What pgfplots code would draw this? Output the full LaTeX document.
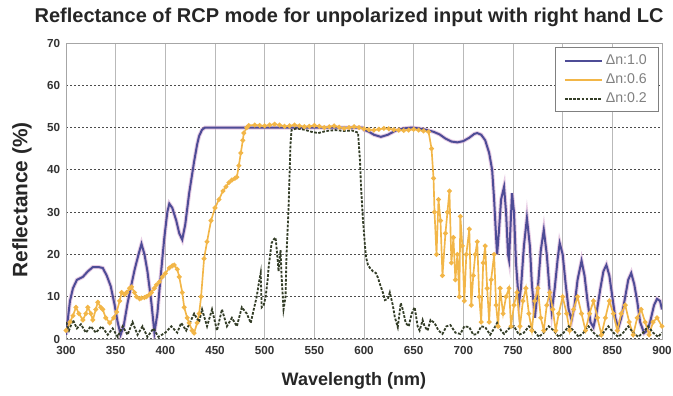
\documentclass[border=0pt]{standalone}
\usepackage{fontspec}
\setmainfont{Liberation Sans}
\usepackage{pgfplots}
\usepackage{pgfplotstable}
\pgfplotsset{compat=1.18}
\definecolor{cblue}{RGB}{78,76,150}
\definecolor{chalo}{RGB}{215,170,210}
\definecolor{corange}{RGB}{242,182,72}
\definecolor{cgreen}{RGB}{52,62,40}
\pgfplotstableread{
x y
300 1
302 5
304 9
307 12
311 14
317 14.7
322 16
327 17
333 17
337 16.8
341 15
345 12.5
349 8
352 4
355 1
358 3
362 8.5
366 13
369 16.3
373 20
376 22.5
379 20
382 16
386 8.5
389 1.5
392 6
395 14
399 24
402 30
404 32
407 31
411 28
414 25
417 23.5
420 27
424 34.5
427 39
429 42
432 46
434 48
437 49.5
440 50
460 50
480 50
500 50
520 50
540 50
560 50
580 50
598 50
600 49.5
605 49
610 48.3
617 47.8
624 48.3
632 49.3
640 49.8
648 50
655 49.8
662 49.5
670 49
676 48.4
682 47.4
688 46.7
694 46.5
700 46.8
706 47.6
711 48.5
714 48.7
718 48.3
722 47
726 44
729 40
731 33
733 24
734 20
736 26
738 33
741 36
743 30
745 20
746 18.7
747 24
749 34.5
751 30
753 18
756 8.5
758 12
761 22
764 28.6
767 22
769 13
772 5
775 12
778 21
781 25.8
784 20
787 11
789 6.5
792 12
795 19
797 22.7
800 20
803 13
806 7
809 4.5
812 8
815 14
819 18.5
822 15
825 9
828 4
831 2.8
834 6
838 12
841 16
844 17.5
847 15
850 10
853 5
856 2.6
859 5
863 10
866 14
869 15.6
872 13
875 9
878 4
882 1.4
885 2
888 4
892 8
895 9.5
898 9
900 7
}\tblue
\pgfplotstableread{
x y
300 2
304 4
307 5.5
310 7.5
313 6
317 4.5
320 6
322 7.5
325 6
327 4.5
330 7
332 8.7
335 7.5
337 7
340 5
344 3.8
348 5
351 6.4
354 9
356 11
359 10.5
361 11
364 12
366 12.3
369 11
371 10
374 9.5
376 9.7
379 9.8
381 10
384 10.5
386 11
389 12
391 12.8
394 13.5
397 14.7
400 15.5
404 16.8
407 17.3
409 17.5
412 16.5
414 14.7
417 11
419 7.5
422 5
424 3.8
427 2
429 1.4
432 3.8
434 6
436 10
439 19
442 23
446 28
450 31
454 33
458 35
461 36
464 37
467 37.6
470 38
472 38.3
474 41
476 44
478 47
479 48.7
482 50
484 50.5
490 50.6
495 50.5
500 50.4
505 50.6
510 50.8
515 50.6
520 50.3
525 50.4
530 50.6
535 50.4
540 50.2
545 50.3
550 50.5
555 50.3
560 50.0
565 50.2
570 50.4
575 50.1
580 49.8
585 50.0
590 50.2
595 50.0
600 49.7
605 49.5
610 49.4
615 49.6
620 49.8
625 49.7
630 49.5
635 49.4
640 49.3
645 49.4
650 49.6
655 49.4
660 49.2
665 49
668 45
670 38
671 30
673 20
675 33
677 28
679 15
682 25
684 30
686 35
688 18
690 24
692 14
694 20
696 10
697 29
699 22
701 9
703 20
706 26
708 8
710 15
712 20
714 23
716 10
718 4
720 18
722 22
724 12
726 4
728 14
731 20
733 8
735 3
737 12
740 6
743 10
746 12
748 3
751 8
754 11
757 3
760 9
763 12
766 6
769 2
772 9
775 12
778 5
781 2
784 8
787 11
790 7
793 2
796 6
800 10
804 6
807 2
811 7
815 10
819 6
823 2
827 6
831 9
835 5
839 1
843 5
847 9
851 6
855 2
859 6
863 8
867 4
871 1
875 5
879 7
883 4
887 1
891 4
895 5
900 3
}\torange
\pgfplotstableread{
x y
300 4
303 2
307 4.5
311 2.5
315 3.5
320 1.5
325 3
330 1.5
336 3
342 1
347 2.5
352 0.5
357 3
362 1
367 4
372 1
377 3
382 0.5
388 2.5
393 0.5
400 1.5
406 3
412 1.5
416 3.8
421 2
425 4
429 6
434 4
437 7
442 3
447 7
452 2
457 7
462 3
467 5
472 3
477 7.5
482 6
486 3.8
489 7
492 10
494 13
496 15.6
497 7.5
499 8
501 10
503 14
504 17
507 22.7
509 23.5
511 24
513 19
514 16
516 21
517 15
519 7
521 10
522 20
524 30.5
526 46
527 49.4
532 49.8
540 49.5
547 49
554 48.7
562 49.2
571 49.4
580 49.2
588 49.3
594 48.8
596 42
597 36
599 28
601 22
602 19.4
604 17.5
606 16.8
609 16
612 15.6
614 14.5
616 13
619 11
621 9.2
624 9.5
626 11
629 8
631 5.2
634 2.8
637 8.5
639 7
642 3.8
645 3
648 6
651 7.5
654 3
656 2
659 4.5
661 3
664 2
667 4.5
671 3.8
675 2
679 1.2
683 3
687 3.3
692 1.5
697 1.2
701 3
706 2.8
710 1
714 1.2
718 3
722 2.8
727 1
731 2.5
734 3.8
738 2
741 1.2
746 2.5
751 3
756 1
761 1.5
766 3
771 2
776 0.5
781 1.5
786 3
791 2
796 0.5
801 1.5
806 3
811 2
816 0.5
821 1.5
826 3
831 1.5
836 0.5
841 1.5
846 3
851 1.5
856 0.5
861 1.5
866 3
871 1.5
876 0.5
881 1.5
886 3
891 1.5
896 0.5
900 1.5
}\tgreen
\begin{document}
\begin{tikzpicture}
\begin{axis}[
  at={(0,0)}, anchor=south west,
  scale only axis,
  width=357.6pt, height=177.6pt,
  xmin=300, xmax=900, ymin=0, ymax=70,
  xtick={300,350,...,900}, ytick={0,10,...,70},
  major tick length=0pt,
  axis line style={gray!70},
  grid=major,
  x grid style={gray!55, line width=0.6pt},
  y grid style={black!70, dash pattern=on 1.2pt off 1.2pt, line width=0.6pt},
  /pgf/number format/assume math mode=true,
  ticklabel style={font=\bfseries\fontsize{7}{8}\selectfont, text=black!80},
  xticklabel style={yshift=-1pt},
  title={Reflectance of RCP mode for unpolarized input with right hand LC},
  every axis title shift=0pt,
  title style={font=\bfseries\fontsize{12}{14}\selectfont, text=black!85, anchor=center, at={(axis description cs:0.475,1.085)}},
  xlabel={Wavelength (nm)},
  xlabel style={font=\bfseries\fontsize{10.8}{12}\selectfont, text=black!85, anchor=center, at={(axis description cs:0.483,-0.141)}},
  ylabel={Reflectance (\%)},
  ylabel style={font=\bfseries\fontsize{12.5}{14}\selectfont, text=black!85, anchor=center, at={(axis description cs:-0.074,0.47)}},
  legend style={at={(axis description cs:0.995,0.985)}, anchor=north east, draw=gray, line width=0.6pt, font=\fontsize{8.5}{9}\selectfont, text=black!50, inner xsep=5pt, inner ysep=2pt, row sep=0pt, cells={anchor=west}},
  legend image code/.code={\draw[#1] (0pt,0pt) -- (22pt,0pt);},
]
\addplot[chalo, line width=2.4pt, opacity=0.6, forget plot] table[x=x,y=y] {\tblue};
\addplot[cblue, line width=1.2pt] table[x=x,y=y] {\tblue};
\addlegendentry{Δn:1.0}
\addplot[corange, line width=1pt, mark=*, mark size=0.9pt, mark options={solid, fill=corange, draw=corange}] table[x=x,y=y] {\torange};
\addlegendentry{Δn:0.6}
\addplot[cgreen, line width=1.1pt, dash pattern=on 1.6pt off 0.9pt] table[x=x,y=y] {\tgreen};
\addlegendentry{Δn:0.2}
\end{axis}
\pgfresetboundingbox
\path (-39.6pt,-34.2pt) rectangle (364.2pt,203.4pt);
\end{tikzpicture}
\end{document}
